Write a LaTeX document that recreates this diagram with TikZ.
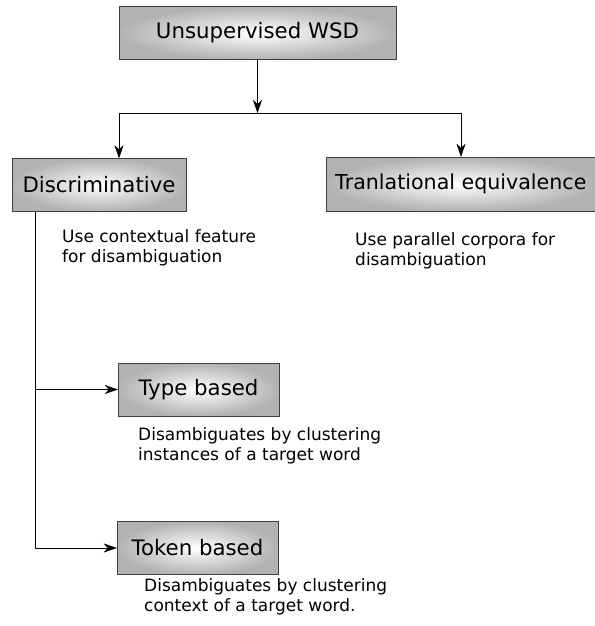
\documentclass[tikz,border=0pt]{standalone}
\usepackage{fontspec}
\setmainfont{DejaVu Sans}
\usetikzlibrary{arrows.meta}

\begin{document}
\begin{tikzpicture}[x=1pt, y=-1pt]
	\tikzstyle{every node}=[inner sep=1pt, align=center]
	\tikzstyle{box}=[draw=black!75, inner color=white, outer color=black!30, minimum height=53pt, font=\fontsize{21.3}{25}\selectfont]
	\tikzstyle{desc}=[anchor=base west, align=left, inner sep=0pt, font=\fontsize{17}{20}\selectfont]
	\tikzstyle{arr}=[-{Stealth[length=13pt, width=9pt, inset=4pt]}]
	\useasboundingbox (0,0) rectangle (594,626);
	% boxes
	\node[box, minimum width=277pt] (U) at (257.5, 33) {Unsupervised WSD};
	\node[box, minimum width=174pt] (D) at (99, 185) {Discriminative};
	\node[box, minimum height=54pt, anchor=west, inner xsep=9pt, font=\fontsize{20.6}{25}\selectfont] (T) at (326, 184) {Tranlational equivalence};
	\node[box, minimum width=161pt] (Y) at (198.5, 389.5) {Type based};
	\node[box, minimum width=161pt] (K) at (197.5, 548) {Token based};
	% descriptions
	\node[desc] (dD) at (62, 262) {Use contextual feature\\for disambiguation};
	\node[desc] (dT) at (355, 265) {Use parallel corpora for\\disambiguation};
	\node[desc] (dY) at (138, 460) {Disambiguates by clustering\\instances of a target word};
	\node[desc] (dK) at (144, 611) {Disambiguates by clustering\\context of a target word.};
	% connectors
	\coordinate (jm) at (257.5, 113);
	\coordinate (jl) at (119, 113);
	\coordinate (jr) at (461, 113);
	\coordinate (dt) at (35, 212);
	\draw [arr] (U.south) -- (jm);
	\draw (jl) -- (jr);
	\draw [arr] (jl) -- (jl |- D.north);
	\draw [arr] (jr) -- (jr |- T.north);
	\draw [arr] (dt |- Y.west) -- (Y.west);
	\draw [arr] (dt) -- (dt |- K.west) -- (K.west);
\end{tikzpicture}
\end{document}
